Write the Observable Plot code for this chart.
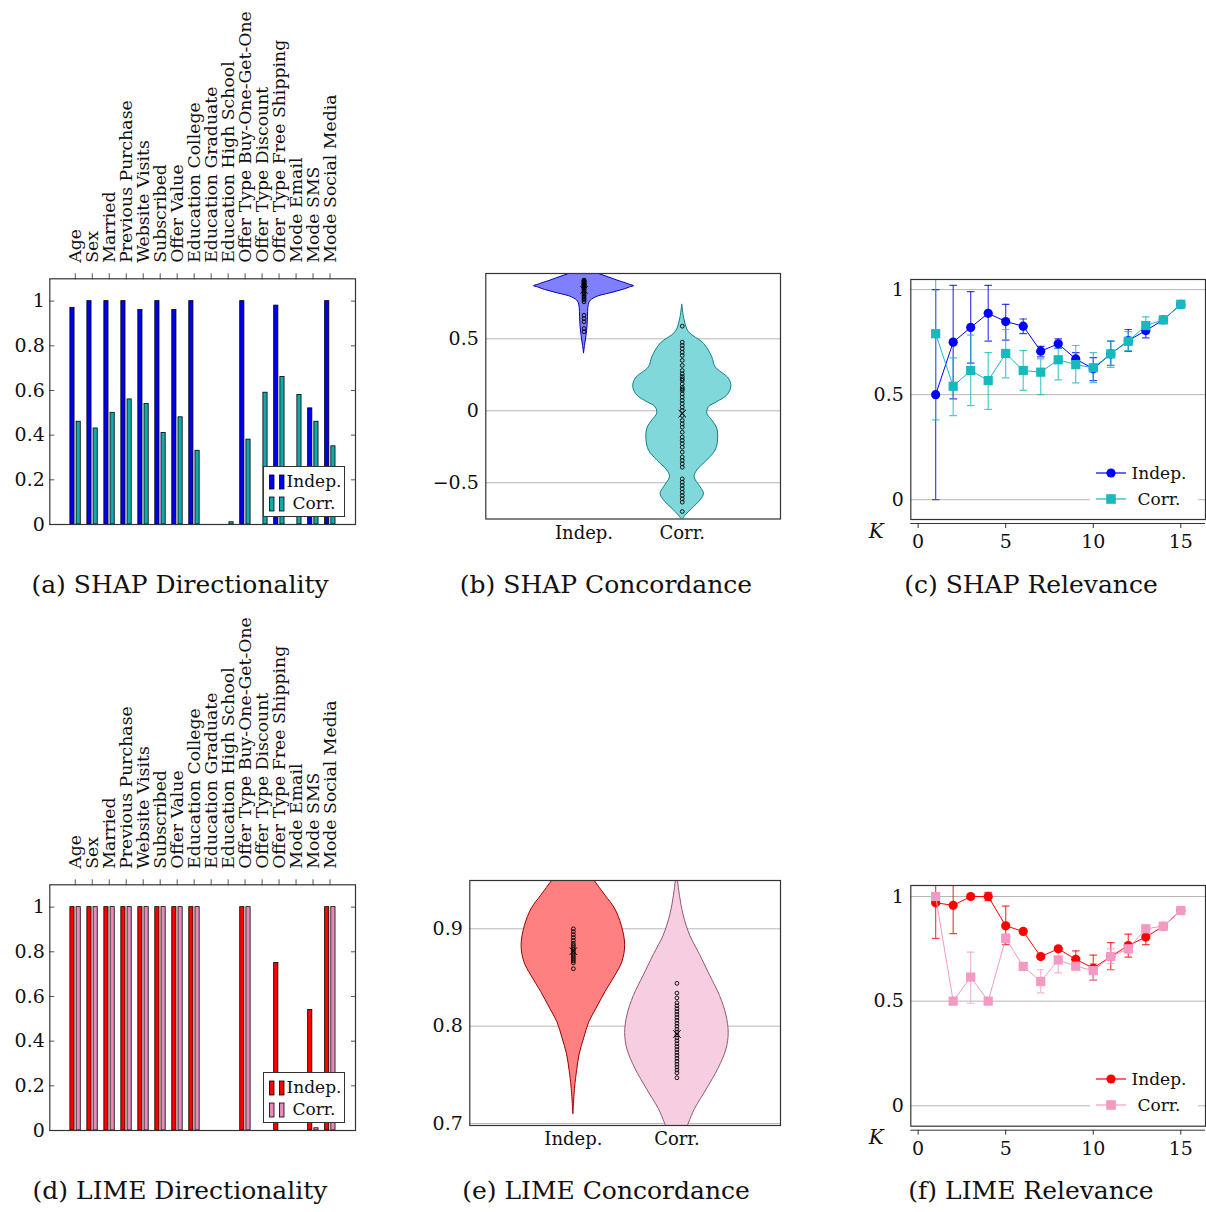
<!DOCTYPE html>
<html><head><meta charset="utf-8">
<script src="https://cdn.jsdelivr.net/npm/d3@7"></script>
<script src="https://cdn.jsdelivr.net/npm/@observablehq/plot@0.6"></script>
<style>
body{margin:0;background:#fff;}
#fig{position:relative;width:1206px;height:1212px;font-family:"DejaVu Serif",serif;color:#111;overflow:hidden;}
.title{position:absolute;width:420px;text-align:center;font-size:25px;line-height:30px;white-space:nowrap;}
.legend{position:absolute;background:#fff;font-size:17px;}
.legend .it{position:absolute;white-space:nowrap;line-height:20px;}
</style></head><body><div id="fig"></div>
<script>
// ---------------- data ----------------
const features = ["Age","Sex","Married","Previous Purchase","Website Visits","Subscribed","Offer Value","Education College","Education Graduate","Education High School","Offer Type Buy-One-Get-One","Offer Type Discount","Offer Type Free Shipping","Mode Email","Mode SMS","Mode Social Media"];
const shapDirIndep = [0.97,1,1,1,0.96,1,0.96,1,0,0,1,0,0.98,0,0.52,1];
const shapDirCorr  = [0.46,0.43,0.50,0.56,0.54,0.41,0.48,0.33,0,0.01,0.38,0.59,0.66,0.58,0.46,0.35];
const limeDirIndep = [1,1,1,1,1,1,1,1,0,0,1,0,0.75,0,0.54,1];
const limeDirCorr  = [1,1,1,1,1,1,1,1,0,0,1,0,0,0,0.01,1];
const barTicks = [0,0.2,0.4,0.6,0.8,1];

const seriesLabels = ["Indep.","Corr."];

// violin outlines: value, half-width (in category units)
const shapIndepProfileY = [0.40,0.46,0.52,0.58,0.65,0.72,0.75,0.766,0.78,0.796,0.81,0.82,0.835,0.845,0.858,0.866,0.875,0.885,0.905,0.93,0.95,0.97,0.985];
const shapIndepProfileW = [0,0.012,0.025,0.035,0.04,0.045,0.055,0.07,0.10,0.15,0.23,0.29,0.37,0.42,0.47,0.51,0.47,0.43,0.34,0.24,0.155,0.07,0];
const shapCorrProfileY = [-0.762,-0.728,-0.681,-0.623,-0.577,-0.531,-0.461,-0.415,-0.345,-0.276,-0.206,-0.125,-0.067,-0.021,0.025,0.060,0.106,0.164,0.222,0.303,0.372,0.466,0.546,0.628,0.739];
const shapCorrProfileW = [0,0.034,0.102,0.186,0.221,0.186,0.125,0.153,0.255,0.339,0.364,0.356,0.305,0.255,0.272,0.356,0.458,0.499,0.476,0.339,0.305,0.221,0.068,0.024,0];
const limeIndepProfileY = [0.71,0.737,0.754,0.771,0.788,0.804,0.818,0.835,0.852,0.866,0.883,0.903,0.921,0.934,0.95,0.965,0.98];
const limeIndepProfileW = [0,0.017,0.036,0.061,0.106,0.154,0.224,0.31,0.407,0.474,0.50,0.468,0.40,0.31,0.20,0.096,0];
const limeCorrProfileY = [0.66,0.68,0.70,0.715,0.735,0.756,0.776,0.793,0.811,0.831,0.852,0.873,0.893,0.914,0.934,0.95,0.97];
const limeCorrProfileW = [0,0.048,0.115,0.176,0.288,0.40,0.478,0.50,0.478,0.416,0.32,0.224,0.128,0.064,0.029,0.01,0];

const shapIndepPoints = [0.908,0.905,0.900,0.897,0.893,0.889,0.886,0.882,0.879,0.875,0.872,0.868,0.865,0.861,0.858,0.851,0.844,0.837,0.83,0.82,0.81,0.80,0.79,0.78,0.77,0.757,0.664,0.641,0.618,0.572,0.549];
const shapCorrPoints = [0.588,0.477,0.454,0.431,0.407,0.384,0.350,0.315,0.280,0.257,0.238,0.222,0.211,0.187,0.164,0.152,0.141,0.118,0.095,0.072,0.049,0.025,0.002,-0.033,-0.067,-0.091,-0.114,-0.149,-0.183,-0.206,-0.229,-0.253,-0.287,-0.322,-0.345,-0.369,-0.392,-0.473,-0.496,-0.519,-0.542,-0.566,-0.589,-0.612,-0.635,-0.700];
const limeIndepPoints = [0.900,0.897,0.894,0.891,0.888,0.885,0.883,0.881,0.879,0.877,0.875,0.873,0.871,0.869,0.867,0.865,0.859];
const limeCorrPoints = [0.844,0.834,0.829,0.824,0.821,0.818,0.815,0.812,0.809,0.806,0.803,0.800,0.797,0.794,0.791,0.788,0.785,0.782,0.779,0.776,0.773,0.770,0.767,0.764,0.761,0.758,0.755,0.752,0.747];
const shapMeans = [0.84,-0.02];
const limeMeans = [0.877,0.792];
const shapConcTicks = [-0.5,0,0.5];
const limeConcTicks = [0.7,0.8,0.9];

const kValues = [1,2,3,4,5,6,7,8,9,10,11,12,13,14,15];
const shapRelIndep   = [0.50,0.75,0.82,0.887,0.848,0.826,0.707,0.742,0.67,0.623,0.694,0.757,0.805,0.856,0.93];
const shapRelIndepLo = [0.0,0.48,0.65,0.755,0.76,0.79,0.68,0.72,0.64,0.567,0.64,0.706,0.77,null,null];
const shapRelIndepHi = [1.0,1.02,0.99,1.02,0.93,0.86,0.73,0.765,0.70,0.676,0.755,0.81,0.82,null,null];
const shapRelCorr    = [0.79,0.54,0.615,0.567,0.696,0.615,0.607,0.666,0.643,0.628,0.694,0.754,0.829,0.856,0.93];
const shapRelCorrLo  = [0.38,0.40,0.448,0.43,0.58,0.52,0.50,0.57,0.556,0.557,0.63,0.71,0.79,null,null];
const shapRelCorrHi  = [1.06,0.675,0.783,0.70,0.81,0.71,0.67,0.72,0.734,0.70,0.755,0.80,0.87,null,null];
const limeRelIndep   = [0.97,0.958,1.0,1.0,0.86,0.833,0.713,0.75,0.70,0.658,0.713,0.766,0.806,0.858,0.933];
const limeRelIndepLo = [0.80,0.823,null,0.98,0.77,null,null,null,0.66,0.60,0.65,0.71,0.77,null,null];
const limeRelIndepHi = [1.08,1.08,null,1.02,0.954,null,null,null,0.74,0.72,0.78,0.82,0.83,null,null];
const limeRelCorr    = [1.0,0.5,0.615,0.5,0.80,0.666,0.594,0.697,0.667,0.646,0.713,0.75,0.846,0.858,0.933];
const limeRelCorrLo  = [null,null,0.49,null,0.78,null,0.54,0.635,0.65,0.60,0.68,0.73,0.83,null,null];
const limeRelCorrHi  = [null,null,0.734,null,0.82,null,0.65,0.74,0.69,0.68,0.75,0.77,0.86,null,null];
const relTicksY = [0,0.5,1];
const relTicksX = [0,5,10,15];

const titles = ["(a) SHAP Directionality","(b) SHAP Concordance","(c) SHAP Relevance","(d) LIME Directionality","(e) LIME Concordance","(f) LIME Relevance"];

// ---------------- helpers ----------------
const FONT = "DejaVu Serif";
const fig = document.getElementById("fig");
function place(node, left, top) {
  node.style.position = "absolute"; node.style.left = left + "px"; node.style.top = top + "px";
  fig.appendChild(node);
}
const fmt = d => d < 0 ? "\u2212" + String(+(-d).toFixed(2)) : String(+(+d).toFixed(2));
const hline = {draw(ctx, size) { const w = Math.sqrt(size / Math.PI); ctx.moveTo(-w, 0); ctx.lineTo(w, 0); }};
const style = {fontFamily: FONT, background: "transparent", overflow: "visible", color: "#111"};

function barPanel(indep, corr, cI, cC) {
  const rows = features.map((f, i) => ({f, indep: indep[i], corr: corr[i]}));
  return Plot.plot({
    width: 375, height: 545, marginLeft: 49.3, marginRight: 20, marginTop: 278.3, marginBottom: 21,
    style,
    x: {type: "band", domain: features, paddingInner: 0, paddingOuter: 1, round: false, align: 0.5},
    y: {domain: [0, 1.1]},
    marks: [
      Plot.barY(rows, {x: "f", y1: 0, y2: "indep", fill: cI, stroke: "#000", strokeWidth: 0.8, insetLeft: 3.6, insetRight: 9.2}),
      Plot.barY(rows, {x: "f", y1: 0, y2: "corr", fill: cC, stroke: "#000", strokeWidth: 0.8, insetLeft: 9.8, insetRight: 3.0}),
      Plot.axisX({anchor: "top", tickSize: 6, tickFormat: () => "", label: null, stroke: "#555"}),
      Plot.text(features, {x: d => d, frameAnchor: "top", rotate: -90, textAnchor: "start", lineAnchor: "middle", dy: -16, fontSize: 17.3, fill: "#111"}),
      Plot.axisY(barTicks, {anchor: "left", tickSize: 0, tickPadding: 5, tickFormat: fmt, fontSize: 19, label: null}),
      Plot.axisY(barTicks, {anchor: "left", tickSize: -5, tickFormat: () => "", label: null, stroke: "#555"}),
      Plot.axisY(barTicks, {anchor: "right", tickSize: -5, tickFormat: () => "", label: null, stroke: "#555"}),
      Plot.frame({stroke: "#333", strokeWidth: 1.2})
    ]
  });
}

function violinPanel(cfg) {
  const marks = [Plot.gridY(cfg.ticks, {stroke: "#999", strokeOpacity: 0.7})];
  cfg.profiles.forEach((p, j) => {
    const c = j + 1;
    const rows = p.y.map((y, i) => ({y, w: p.w[i]}));
    marks.push(Plot.areaX(rows, {y: "y", x1: d => c - d.w, x2: d => c + d.w, curve: "catmull-rom",
      fill: cfg.colors[j].fill, stroke: cfg.colors[j].stroke, strokeWidth: 1, clip: true}));
  });
  cfg.points.forEach((pts, j) => {
    marks.push(Plot.dot(pts, {x: () => j + 1, y: d => d, r: 1.9, stroke: "#000", strokeWidth: 0.9, fill: "none", clip: true}));
  });
  marks.push(Plot.dot(cfg.means, {x: (d, i) => i + 1, y: d => d, symbol: "times", r: 3.5, stroke: "#000", strokeWidth: 1}));
  marks.push(Plot.axisY(cfg.ticks, {tickSize: 0, tickPadding: 7, tickFormat: fmt, fontSize: 19, label: null}));
  marks.push(Plot.axisX([1, 2], {tickSize: 0, tickPadding: 7, tickFormat: d => seriesLabels[d - 1], fontSize: 18, label: null}));
  marks.push(Plot.frame({stroke: "#333", strokeWidth: 1.2}));
  return Plot.plot({
    width: cfg.width, height: cfg.height, marginLeft: cfg.ml, marginRight: cfg.mr, marginTop: cfg.mt, marginBottom: cfg.mb,
    style, x: {domain: [0, 3]}, y: {domain: cfg.yDomain}, marks
  });
}

function relPanel(cfg) {
  const mk = (v, lo, hi) => kValues.map((k, i) => ({k, v: v[i], lo: lo[i], hi: hi[i]}));
  const rI = mk(cfg.iv, cfg.ilo, cfg.ihi), rC = mk(cfg.cv, cfg.clo, cfg.chi);
  const eI = rI.filter(d => d.lo != null), eC = rC.filter(d => d.lo != null);
  const marks = [
    Plot.gridY(relTicksY, {stroke: "#999", strokeOpacity: 0.7}),
    Plot.ruleX(eI, {x: "k", y1: "lo", y2: "hi", stroke: cfg.cI, strokeOpacity: 0.75, strokeWidth: 1.2, clip: true}),
    Plot.dot(eI, {x: "k", y: "lo", symbol: hline, r: 3.8, stroke: cfg.cI, strokeOpacity: 0.75, strokeWidth: 1.2, clip: true}),
    Plot.dot(eI, {x: "k", y: "hi", symbol: hline, r: 3.8, stroke: cfg.cI, strokeOpacity: 0.75, strokeWidth: 1.2, clip: true}),
    Plot.ruleX(eC, {x: "k", y1: "lo", y2: "hi", stroke: cfg.cC, strokeOpacity: 0.75, strokeWidth: 1.2, clip: true}),
    Plot.dot(eC, {x: "k", y: "lo", symbol: hline, r: 3.8, stroke: cfg.cC, strokeOpacity: 0.75, strokeWidth: 1.2, clip: true}),
    Plot.dot(eC, {x: "k", y: "hi", symbol: hline, r: 3.8, stroke: cfg.cC, strokeOpacity: 0.75, strokeWidth: 1.2, clip: true}),
    Plot.line(rI, {x: "k", y: "v", stroke: cfg.cI, strokeWidth: 1}),
    Plot.dot(rI, {x: "k", y: "v", symbol: "circle", r: 4.6, fill: cfg.cI, stroke: "none"}),
    Plot.line(rC, {x: "k", y: "v", stroke: cfg.cC, strokeWidth: 1}),
    Plot.dot(rC, {x: "k", y: "v", symbol: "square", r: 5.2, fill: cfg.cC, stroke: "none"}),
    Plot.axisY(relTicksY, {tickSize: 0, tickPadding: 7, tickFormat: fmt, fontSize: 19, label: null}),
    Plot.ruleY([cfg.yDomain[0]], {dy: 4, stroke: "#333"}),
    Plot.axisX(relTicksX, {tickSize: 5, tickPadding: 6, dy: 4, fontSize: 19, label: null, tickFormat: fmt, stroke: "#333"}),
    Plot.text(["K"], {frameAnchor: "bottom-left", dx: -42, dy: 18, fontStyle: "italic", fontSize: 20, fill: "#111"}),
    Plot.frame({stroke: "#333", strokeWidth: 1.2})
  ];
  return Plot.plot({
    width: 356, height: 304, marginLeft: 60.3, marginRight: 1, marginTop: 19, marginBottom: cfg.mb,
    style, x: {domain: [-0.42, 16.41]}, y: {domain: cfg.yDomain}, marks
  });
}

function barLegend(left, top, items) {
  const d = document.createElement("div");
  d.className = "legend";
  Object.assign(d.style, {width: "80px", height: "49px", border: "1px solid #333"});
  items.forEach((it, j) => {
    const s = document.createElement("div");
    s.className = "it";
    s.style.left = "4px"; s.style.top = (4 + j * 21.5) + "px";
    s.innerHTML = `<svg width="20" height="17" style="vertical-align:middle"><rect x="1.5" y="1" width="4.5" height="14" fill="${it.fill}" stroke="#000" stroke-width="0.8"/><rect x="11.5" y="1" width="4.5" height="14" fill="${it.fill}" stroke="#000" stroke-width="0.8"/></svg>`;
    const t = document.createElement("div");
    t.className = "it"; t.textContent = it.label;
    t.style.left = "22px"; t.style.width = "56px"; t.style.textAlign = "center"; t.style.top = (4 + j * 21.5) + "px";
    d.appendChild(s); d.appendChild(t);
  });
  place(d, left, top);
}

function lineLegend(left, top, items) {
  const d = document.createElement("div");
  d.className = "legend";
  Object.assign(d.style, {width: "108px", height: "50px"});
  items.forEach((it, j) => {
    const s = document.createElement("div");
    s.className = "it"; s.style.left = "6px"; s.style.top = (2 + j * 25.5) + "px";
    const sym = it.symbol === "circle"
      ? `<circle cx="15" cy="10" r="4.6" fill="${it.color}"/>`
      : `<rect x="10.2" y="5.2" width="9.6" height="9.6" fill="${it.color}"/>`;
    s.innerHTML = `<svg width="30" height="20" style="display:block"><line x1="0" y1="10" x2="30" y2="10" stroke="${it.color}" stroke-width="1.2"/>${sym}</svg>`;
    const t = document.createElement("div");
    t.className = "it"; t.textContent = it.label;
    t.style.left = "38px"; t.style.width = "62px"; t.style.textAlign = "center"; t.style.top = (2 + j * 25.5) + "px";
    d.appendChild(s); d.appendChild(t);
  });
  place(d, left, top);
}

function title(text, cx, cy) {
  const d = document.createElement("div");
  d.className = "title"; d.textContent = text;
  place(d, cx - 210, cy - 15);
}

// ---------------- colours ----------------
const blue = "#0000f0", teal = "#12a9aa", red = "#ff0000", pinkBar = "#e78cba";
const cyanLine = "#17b8be", pinkLine = "#f39ac3";

// ---------------- panels ----------------
place(barPanel(shapDirIndep, shapDirCorr, blue, teal), 0, 0);
place(barPanel(limeDirIndep, limeDirCorr, red, pinkBar), 0, 606);
barLegend(263, 466, [{label: seriesLabels[0], fill: blue}, {label: seriesLabels[1], fill: teal}]);
barLegend(263, 1072, [{label: seriesLabels[0], fill: red}, {label: seriesLabels[1], fill: pinkBar}]);

place(violinPanel({
  width: 370, height: 309, ml: 65.3, mr: 10, mt: 23, mb: 40.5,
  yDomain: [-0.752, 0.954], ticks: shapConcTicks,
  profiles: [{y: shapIndepProfileY, w: shapIndepProfileW}, {y: shapCorrProfileY, w: shapCorrProfileW}],
  points: [shapIndepPoints, shapCorrPoints], means: shapMeans,
  colors: [{fill: "#8080ff", stroke: "#0000b0"}, {fill: "#80d8da", stroke: "#0e7f80"}]
}), 420, 250);

place(violinPanel({
  width: 390, height: 305, ml: 69.3, mr: 10, mt: 20, mb: 40,
  yDomain: [0.698, 0.9496], ticks: limeConcTicks,
  profiles: [{y: limeIndepProfileY, w: limeIndepProfileW}, {y: limeCorrProfileY, w: limeCorrProfileW}],
  points: [limeIndepPoints, limeCorrPoints], means: limeMeans,
  colors: [{fill: "#ff8080", stroke: "#990000"}, {fill: "#f7cde1", stroke: "#8f5a75"}]
}), 400, 860);

place(relPanel({
  iv: shapRelIndep, ilo: shapRelIndepLo, ihi: shapRelIndepHi,
  cv: shapRelCorr, clo: shapRelCorrLo, chi: shapRelCorrHi,
  cI: "#0000ff", cC: cyanLine, yDomain: [-0.094, 1.048], mb: 45
}), 850, 260);
place(relPanel({
  iv: limeRelIndep, ilo: limeRelIndepLo, ihi: limeRelIndepHi,
  cv: limeRelCorr, clo: limeRelCorrLo, chi: limeRelCorrHi,
  cI: red, cC: pinkLine, yDomain: [-0.0975, 1.0526], mb: 44.3
}), 850, 866);
lineLegend(1090, 461, [{label: seriesLabels[0], color: "#0000ff", symbol: "circle"}, {label: seriesLabels[1], color: cyanLine, symbol: "square"}]);
lineLegend(1090, 1067, [{label: seriesLabels[0], color: red, symbol: "circle"}, {label: seriesLabels[1], color: pinkLine, symbol: "square"}]);

title(titles[0], 180, 585);
title(titles[1], 606, 585);
title(titles[2], 1031, 585);
title(titles[3], 180, 1191);
title(titles[4], 606, 1191);
title(titles[5], 1031, 1191);
</script></body></html>
